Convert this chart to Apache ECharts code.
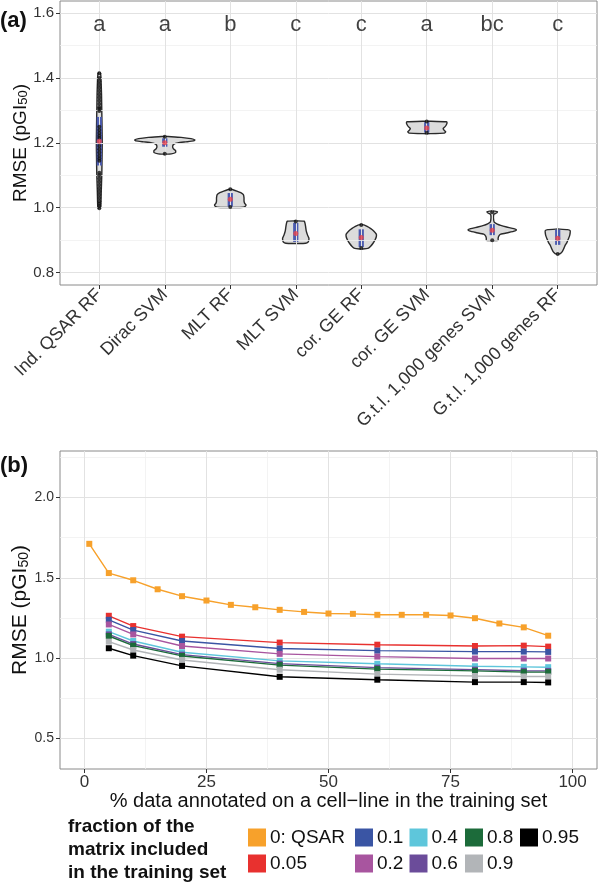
<!DOCTYPE html>
<html><head><meta charset="utf-8">
<script src="https://cdn.jsdelivr.net/npm/echarts@6/dist/echarts.min.js"></script>
<style>html,body{margin:0;padding:0;background:#fff}#c{width:598px;height:883px}</style>
</head><body><div id="c"></div>
<script>
// ---------- Panel (a) data ----------
const methods = ['Ind. QSAR RF','Dirac SVM','MLT RF','MLT SVM','cor. GE RF','cor. GE SVM','G.t.I. 1,000 genes SVM','G.t.I. 1,000 genes RF'];
const letters = ['a','a','b','c','c','a','bc','c'];
const yTicksA = [0.8,1.0,1.2,1.4,1.6];
const yMinorA = [0.9,1.1,1.3,1.5];
// violin outlines: [RMSE, half-width in category units]
const violinIndQSAR = [[0.997,0],[1.0,0.022],[1.05,0.03],[1.1,0.038],[1.15,0.042],[1.2,0.045],[1.25,0.042],[1.3,0.038],[1.35,0.034],[1.4,0.026],[1.415,0.018],[1.418,0]];
const violinDirac = [[1.165,0],[1.166,0.10],[1.170,0.165],[1.176,0.165],[1.182,0.13],[1.190,0.12],[1.196,0.14],[1.200,0.2],[1.203,0.32],[1.206,0.44],[1.209,0.46],[1.213,0.40],[1.217,0.25],[1.219,0.1],[1.220,0]];
const violinMLTRF = [[1.0,0],[1.001,0.2],[1.004,0.23],[1.008,0.24],[1.013,0.22],[1.02,0.21],[1.03,0.21],[1.04,0.2],[1.046,0.16],[1.051,0.1],[1.055,0.04],[1.057,0]];
const violinMLTSVM = [[0.889,0],[0.890,0.15],[0.894,0.19],[0.900,0.2],[0.906,0.2],[0.915,0.18],[0.928,0.16],[0.942,0.15],[0.953,0.14],[0.958,0.13],[0.959,0]];
const violinCorGERF = [[0.872,0],[0.874,0.1],[0.880,0.14],[0.890,0.18],[0.900,0.21],[0.910,0.23],[0.918,0.23],[0.928,0.19],[0.936,0.14],[0.942,0.09],[0.946,0.05],[0.948,0]];
const violinCorGESVM = [[1.228,0],[1.230,0.27],[1.234,0.29],[1.238,0.27],[1.244,0.25],[1.250,0.28],[1.256,0.30],[1.262,0.31],[1.265,0.30],[1.267,0]];
const violinGtiSVM = [[0.898,0],[0.899,0.09],[0.905,0.09],[0.912,0.1],[0.918,0.13],[0.923,0.25],[0.928,0.35],[0.931,0.37],[0.935,0.33],[0.940,0.22],[0.945,0.13],[0.950,0.07],[0.955,0.03],[0.965,0.02],[0.975,0.02],[0.980,0.03],[0.984,0.07],[0.987,0.08],[0.989,0.04],[0.990,0]];
const violinGtiRF = [[0.856,0],[0.858,0.04],[0.864,0.07],[0.872,0.09],[0.882,0.11],[0.892,0.14],[0.902,0.16],[0.912,0.18],[0.922,0.19],[0.929,0.19],[0.932,0.15],[0.934,0]];
const violins = [violinIndQSAR, violinDirac, violinMLTRF, violinMLTSVM, violinCorGERF, violinCorGESVM, violinGtiSVM, violinGtiRF];
const boxQ1 = [1.13, 1.188, 1.003, 0.894, 0.878, 1.232, 0.915, 0.885];
const boxQ3 = [1.28, 1.214, 1.045, 0.953, 0.933, 1.264, 0.949, 0.932];
const means = [1.205, 1.200, 1.026, 0.920, 0.908, 1.246, 0.930, 0.905];
const rawPoints = [
  [0.998,1.005,1.012,1.02,1.03,1.04,1.05,1.06,1.07,1.08,1.09,1.1,1.108,1.145,1.152,1.16,1.17,1.18,1.19,1.215,1.222,1.23,1.24,1.25,1.298,1.305,1.31,1.32,1.33,1.34,1.35,1.36,1.37,1.38,1.39,1.40,1.415],
  [1.166,1.219],
  [1.002,1.057],
  [0.957],
  [0.946,0.875],
  [1.266,1.231],
  [0.986,0.899],
  [0.857]
];

// ---------- Panel (b) data ----------
const xTicksB = [0,25,50,75,100];
const xMinorB = [12.5,37.5,62.5,87.5];
const yTicksB = [0.5,1.0,1.5,2.0];
const yMinorB = [0.75,1.25,1.75,2.25];
const qsarPct = [1,5,10,15,20,25,30,35,40,45,50,55,60,65,70,75,80,85,90,95];
const qsarRMSE = [1.712,1.530,1.485,1.429,1.386,1.359,1.332,1.317,1.301,1.288,1.278,1.276,1.270,1.270,1.270,1.266,1.249,1.216,1.192,1.140];
const pctAnnotated = [5,10,20,40,60,80,90,95];
const rmse005 = [1.264,1.200,1.134,1.097,1.084,1.076,1.078,1.072];
const rmse01  = [1.239,1.175,1.107,1.060,1.047,1.041,1.041,1.039];
const rmse02  = [1.210,1.148,1.076,1.027,1.010,0.998,0.998,0.998];
const rmse04  = [1.165,1.107,1.037,0.983,0.965,0.950,0.946,0.944];
const rmse06  = [1.148,1.088,1.022,0.966,0.941,0.929,0.922,0.921];
const rmse08  = [1.138,1.078,1.014,0.957,0.932,0.921,0.913,0.913];
const rmse09  = [1.103,1.051,0.989,0.928,0.901,0.889,0.886,0.886];
const rmse095 = [1.062,1.016,0.952,0.884,0.866,0.851,0.851,0.849];
const seriesNames = ['0: QSAR','0.05','0.1','0.2','0.4','0.6','0.8','0.9','0.95'];
const seriesColors = ['#F7A12B','#E8312F','#3A55A4','#A8559F','#5EC6DB','#6B4C9A','#1C6B3A','#B2B5B8','#000000'];
const fractionValues = [rmse005,rmse01,rmse02,rmse04,rmse06,rmse08,rmse09,rmse095];
const legendColumns = [['0: QSAR','0.05'],['0.1','0.2'],['0.4','0.6'],['0.8','0.9'],['0.95']];
const legendLefts = [248,355,409.5,465,520];

const FONT = 'Liberation Sans, Arial, Helvetica, sans-serif';
const chart = echarts.init(document.getElementById('c'), null, {renderer:'canvas'});

const catIdx = methods.map((m,i)=>i);
const majorStyle = {color:'#e2e2e2', width:1, type:'solid'};
const minorStyle = {color:'#f0f0f0', width:0.8, type:'solid'};
const tickStyle = {color:'#333', width:1};

function gridLines(xi, yi, vx, vy, style){
  return {type:'line', xAxisIndex:xi, yAxisIndex:yi, data:[], silent:true, z:1,
    markLine:{silent:true, symbol:['none','none'], animation:false, label:{show:false},
      lineStyle:style, emphasis:{disabled:true},
      data: vx.map(v=>({xAxis:v})).concat(vy.map(v=>({yAxis:v})))}};
}

function violinRender(params, api){
  const i = api.value(0);
  const shape = violins[i];
  const right = shape.map(p => api.coord([i + p[1], p[0]]));
  const left = shape.slice().reverse().map(p => api.coord([i - p[1], p[0]]));
  return {type:'polygon', shape:{points: right.concat(left), smooth:0.15},
    style:{fill:'#dcdcdc', stroke:'#2a2a2a', lineWidth:1.4}};
}
function boxRender(params, api){
  const i = api.value(0);
  const a = api.coord([i - 0.04, boxQ3[i]]);
  const b = api.coord([i + 0.04, boxQ1[i]]);
  return {type:'rect', shape:{x:a[0], y:a[1], width:b[0]-a[0], height:b[1]-a[1]},
    style:{fill:'#4B5BB0'}};
}

const series = [
  gridLines(1, 1, [], yMinorA, minorStyle),
  gridLines(0, 0, catIdx, yTicksA, majorStyle),
  gridLines(3, 3, xMinorB, yMinorB, minorStyle),
  gridLines(2, 2, xTicksB, yTicksB, majorStyle),
  {type:'custom', xAxisIndex:0, yAxisIndex:0, renderItem:violinRender, z:3,
   data: catIdx.map(i=>[i, means[i]]), encode:{x:0,y:1}, silent:true},
  {type:'custom', xAxisIndex:0, yAxisIndex:0, renderItem:boxRender, z:4,
   data: catIdx.map(i=>[i, means[i]]), encode:{x:0,y:1}, silent:true},
  {type:'scatter', xAxisIndex:0, yAxisIndex:0, z:5, symbol:'circle', symbolSize:4,
   itemStyle:{color:'#111'}, silent:true,
   data: rawPoints.flatMap((arr,i)=>arr.map(v=>[i,v]))},
  {type:'scatter', xAxisIndex:0, yAxisIndex:0, z:6, symbol:'circle', symbolSize:5,
   itemStyle:{color:'#E8434C'}, silent:true,
   data: catIdx.map(i=>[i, means[i]])},
  {type:'scatter', xAxisIndex:0, yAxisIndex:0, z:6, symbolSize:0, silent:true,
   data: catIdx.map(i=>[i, 1.564]),
   label:{show:true, position:'inside', formatter:p=>letters[p.dataIndex], fontSize:22, color:'#111', fontFamily:FONT}},
  {type:'line', name:seriesNames[0], xAxisIndex:2, yAxisIndex:2, symbol:'rect', symbolSize:6,
   lineStyle:{width:1.4, color:seriesColors[0]}, itemStyle:{color:seriesColors[0]},
   data: qsarPct.map((x,k)=>[x, qsarRMSE[k]]), silent:true, z:5}
];
fractionValues.forEach((vals, s) => {
  series.push({type:'line', name:seriesNames[s+1], xAxisIndex:2, yAxisIndex:2, symbol:'rect', symbolSize:6,
    lineStyle:{width:1.4, color:seriesColors[s+1]}, itemStyle:{color:seriesColors[s+1]},
    data: pctAnnotated.map((x,k)=>[x, vals[k]]), silent:true, z:5+s});
});

const legends = legendColumns.map((col, c) => ({
  orient:'vertical', left:legendLefts[c], top:828, padding:0, itemWidth:18, itemHeight:18, itemGap:7,
  icon:'rect', selectedMode:false, data:col,
  textStyle:{fontSize:19, color:'#111', fontFamily:FONT, padding:[0,0,0,-1]}
}));

const hiddenAxis = {axisLine:{show:false, onZero:false}, axisLabel:{show:false}, axisTick:{show:false}, splitLine:{show:false}};

const option = {
  animation:false,
  textStyle:{fontFamily:FONT},
  grid:[
    {left:60, top:1, width:537, height:284, show:true, borderColor:'#8a8a8a', borderWidth:1, backgroundColor:'transparent', containLabel:false, outerBoundsMode:'none'},
    {left:60, top:451, width:537, height:318, show:true, borderColor:'#8a8a8a', borderWidth:1, backgroundColor:'transparent', containLabel:false, outerBoundsMode:'none'}
  ],
  xAxis:[
    {gridIndex:0, type:'value', min:-0.6, max:7.6, axisLine:{show:false, onZero:false},
     axisTick:{show:true, customValues:catIdx, length:4, lineStyle:tickStyle},
     axisLabel:{customValues:catIdx, formatter:v=>methods[Math.round(v)], rotate:45, fontSize:18, color:'#333', margin:7, fontFamily:FONT},
     splitLine:{show:false}},
    Object.assign({gridIndex:0, type:'value', min:-0.6, max:7.6}, hiddenAxis),
    {gridIndex:1, type:'value', min:-5, max:105, axisLine:{show:false, onZero:false},
     axisTick:{show:true, customValues:xTicksB, length:4, lineStyle:tickStyle},
     axisLabel:{customValues:xTicksB, formatter:v=>String(v), fontSize:17, color:'#333', margin:5, fontFamily:FONT},
     splitLine:{show:false},
     name:'% data annotated on a cell\u2212line in the training set', nameLocation:'middle', nameGap:22, nameMoveOverlap:false,
     nameTextStyle:{fontSize:20, color:'#111', fontFamily:FONT}},
    Object.assign({gridIndex:1, type:'value', min:-5, max:105}, hiddenAxis)
  ],
  yAxis:[
    {gridIndex:0, type:'value', min:0.761, max:1.638, axisLine:{show:false, onZero:false},
     axisTick:{show:true, customValues:yTicksA, length:4, lineStyle:tickStyle},
     axisLabel:{customValues:yTicksA, formatter:v=>v.toFixed(1), fontSize:15, color:'#333', margin:6, fontFamily:FONT},
     splitLine:{show:false},
     name:'RMSE (pGI{sub|50})', nameLocation:'middle', nameGap:30, nameRotate:90, nameMoveOverlap:false,
     nameTextStyle:{fontSize:19, color:'#111', fontFamily:FONT, rich:{sub:{fontSize:13, verticalAlign:'bottom', fontFamily:FONT, color:'#111'}}}},
    Object.assign({gridIndex:0, type:'value', min:0.761, max:1.638}, hiddenAxis),
    {gridIndex:1, type:'value', min:0.31, max:2.29, axisLine:{show:false, onZero:false},
     axisTick:{show:true, customValues:yTicksB, length:4, lineStyle:tickStyle},
     axisLabel:{customValues:yTicksB, formatter:v=>v.toFixed(1), fontSize:14, color:'#333', margin:6, fontFamily:FONT},
     splitLine:{show:false},
     name:'RMSE (pGI{sub|50})', nameLocation:'middle', nameGap:29, nameRotate:90, nameMoveOverlap:false,
     nameTextStyle:{fontSize:21, color:'#111', fontFamily:FONT, rich:{sub:{fontSize:14, verticalAlign:'bottom', fontFamily:FONT, color:'#111'}}}},
    Object.assign({gridIndex:1, type:'value', min:0.31, max:2.29}, hiddenAxis)
  ],
  legend: legends,
  graphic:[
    {type:'text', left:0, top:10, style:{text:'(a)', fontSize:22, fontWeight:'bold', fill:'#111', fontFamily:FONT}},
    {type:'text', left:0, top:455, style:{text:'(b)', fontSize:22, fontWeight:'bold', fill:'#111', fontFamily:FONT}},
    {type:'text', left:68, top:815, style:{text:'fraction of the\nmatrix included\nin the training set', fontSize:19, lineHeight:23, fontWeight:'bold', fill:'#111', fontFamily:FONT}}
  ],
  series: series
};
chart.setOption(option);
</script>
</body></html>
